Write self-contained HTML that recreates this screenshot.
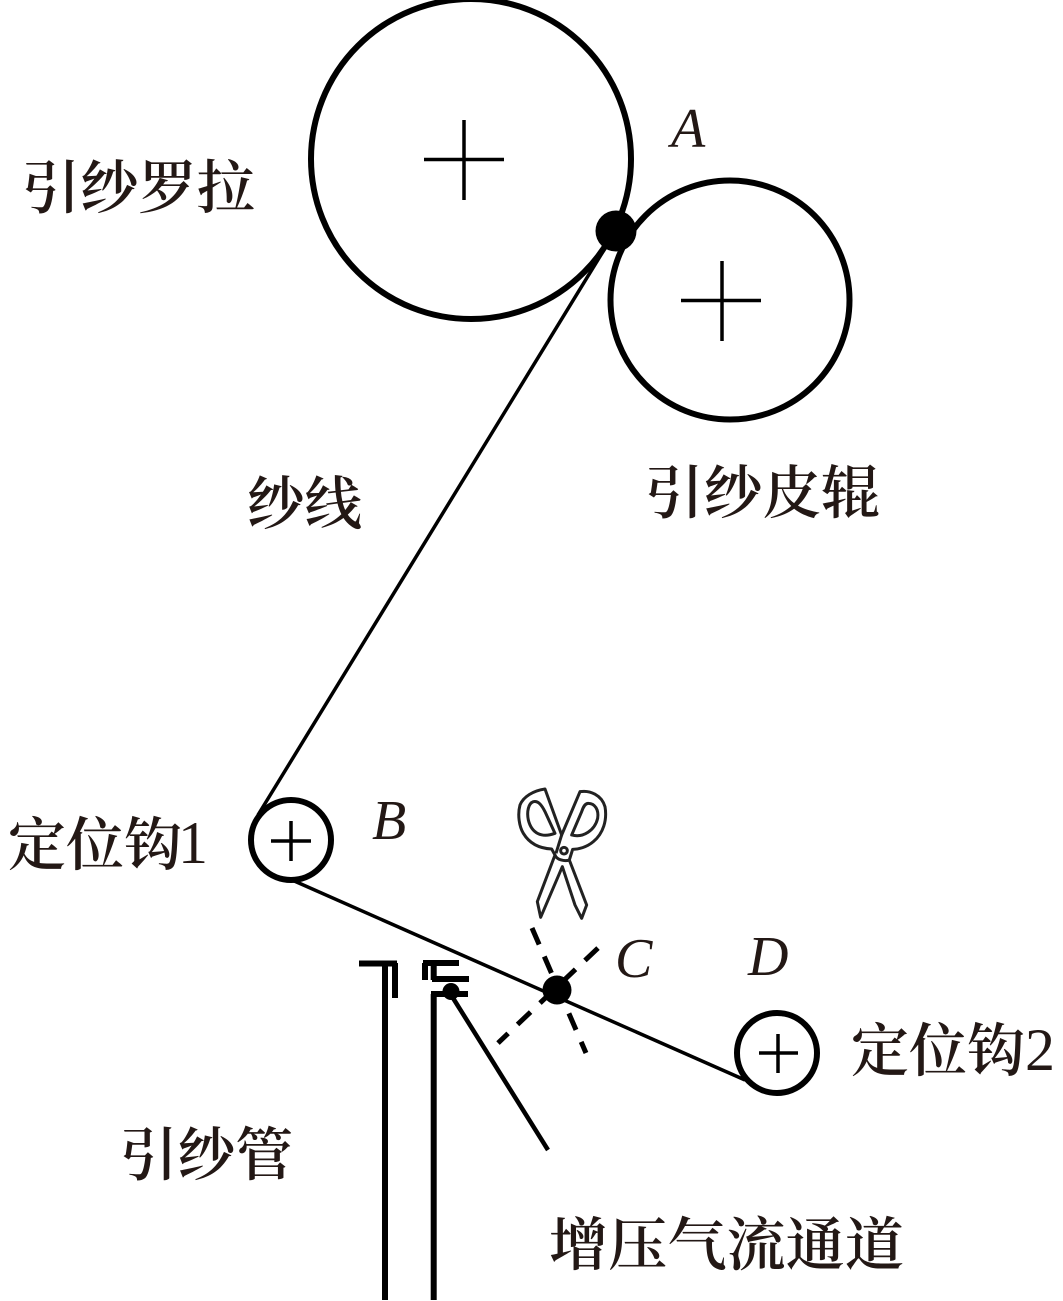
<!DOCTYPE html>
<html><head><meta charset="utf-8"><style>
html,body{margin:0;padding:0;background:#fff}
svg{display:block}
text{font-family:"Liberation Serif","Noto Serif CJK SC",serif;fill:#231815}
.c{font-size:58px;font-weight:600}
.i{font-size:56px;font-style:italic}
.n{font-size:60px}
</style></head><body>
<svg width="1063" height="1301" viewBox="0 0 1063 1301" xmlns="http://www.w3.org/2000/svg">
<g fill="none" stroke="#000">
<circle cx="471" cy="159" r="160" stroke-width="6"/>
<circle cx="730" cy="300" r="119.500" stroke-width="6"/>
<path d="M424 159.500H504M464 120V200M681 300.500H761M722 261V341" stroke-width="3.500"/>
<path d="M607 245L258 815" stroke-width="3.500"/>
<path d="M292 880L745 1080" stroke-width="3.500"/>
<circle cx="291" cy="840" r="40" stroke-width="6"/>
<circle cx="777" cy="1053" r="40" stroke-width="6"/>
<path d="M271 841H311M291 821V861M759 1053H798M778 1034V1073" stroke-width="3.500"/>
<path d="M598 948L498 1043" stroke-width="5" stroke-dasharray="18 13"/>
<path d="M532 928L586 1053" stroke-width="5" stroke-dasharray="18 13"/>
<path d="M359 963.500H397M385 963V1300M395 963V998" stroke-width="6"/>
<path d="M433.700 994V1300M431 994H468M423 963H459M425 963V980M432 979H469M433.700 963V980" stroke-width="6"/>
<path d="M453 998L548 1150" stroke-width="4.500"/>
<g transform="translate(500 770) scale(.3333)" stroke-width="9" stroke="#222" stroke-linejoin="round">
<path d="M135 57C100 62 70 80 60 105C52 135 58 170 70 190C85 215 110 235 155 237L165 255L112 395L122 442L140 400L187 290L225 405L245 445L260 405L208 270L218 238C235 238 260 232 280 215C310 190 322 150 315 110C305 75 270 60 240 65L185 195L135 57Z"/>
<path d="M165 255C170 270 195 275 208 270"/>
<path d="M100 95C85 100 80 125 85 150C95 190 125 205 165 190L135 125C125 105 115 92 100 95Z"/>
<path d="M265 100C285 100 297 120 293 145C285 180 250 205 215 195L245 125C250 110 255 100 265 100Z"/>
<circle cx="192" cy="242" r="10"/>
<path d="M185 195L168 250"/>
</g>
</g>
<circle cx="616" cy="231" r="20.500" fill="#000"/>
<circle cx="557" cy="990" r="14.500" fill="#000"/>
<circle cx="451" cy="991.500" r="8.500" fill="#000"/>
<text class="c" x="22" y="208" textLength="233" lengthAdjust="spacingAndGlyphs">引纱罗拉</text>
<text class="c" x="645" y="513" textLength="235" lengthAdjust="spacingAndGlyphs">引纱皮辊</text>
<text class="c" x="247" y="524" textLength="115" lengthAdjust="spacingAndGlyphs">纱线</text>
<text class="c" x="8" y="865" textLength="174" lengthAdjust="spacingAndGlyphs">定位钩</text>
<text class="n" x="178" y="863">1</text>
<text class="c" x="851" y="1071" textLength="174" lengthAdjust="spacingAndGlyphs">定位钩</text>
<text class="n" x="1025" y="1070">2</text>
<text class="c" x="120" y="1175" textLength="173" lengthAdjust="spacingAndGlyphs">引纱管</text>
<text class="c" x="549" y="1265" textLength="355" lengthAdjust="spacingAndGlyphs">增压气流通道</text>
<text class="i" x="671" y="147">A</text>
<text class="i" x="372" y="839">B</text>
<text class="i" x="615" y="977">C</text>
<text class="i" x="748" y="975">D</text>
</svg>
</body></html>
